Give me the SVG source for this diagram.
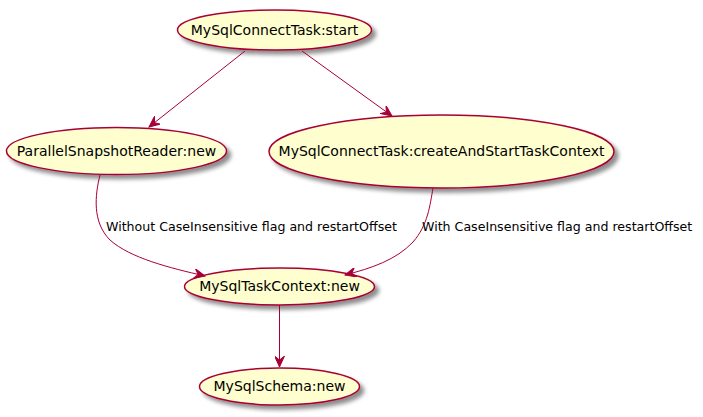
<svg xmlns="http://www.w3.org/2000/svg" width="703" height="417" viewBox="0 0 703 417">
<defs>
<filter id="sh" x="-20%" y="-30%" width="150%" height="180%">
<feGaussianBlur in="SourceAlpha" stdDeviation="2"/>
<feOffset dx="4" dy="4" result="b"/>
<feComponentTransfer><feFuncA type="linear" slope="0.45"/></feComponentTransfer>
<feMerge><feMergeNode/><feMergeNode in="SourceGraphic"/></feMerge>
</filter>
<marker id="ah" viewBox="0 0 12 10" refX="11" refY="5" markerWidth="12" markerHeight="10" markerUnits="userSpaceOnUse" orient="auto">
<path d="M0,0 L11,5 L0,10 L4,5 Z" fill="#A80036" stroke="#A80036" stroke-width="1"/>
</marker>
<style>
.n ellipse{fill:#FEFECE;stroke:#A80036;stroke-width:1.5;filter:url(#sh)}
.n text{font-family:"DejaVu Sans",sans-serif;font-size:14px;fill:#000;text-anchor:middle}
.e path{fill:none;stroke:#A80036;stroke-width:1;marker-end:url(#ah)}
.e text{font-family:"DejaVu Sans",sans-serif;font-size:12.6px;fill:#000}
</style>
</defs>
<rect width="703" height="417" fill="#fff"/>
<g id="start" class="n"><ellipse cx="274.5" cy="30" rx="97" ry="20"/><text x="274.5" y="35">MySqlConnectTask:start</text></g>
<g id="psr" class="n"><ellipse cx="116.5" cy="151" rx="110" ry="23.5"/><text x="116.5" y="156">ParallelSnapshotReader:new</text></g>
<g id="create" class="n"><ellipse cx="441.5" cy="151.5" rx="172.5" ry="36.5"/><text x="441.5" y="156">MySqlConnectTask:createAndStartTaskContext</text></g>
<g id="ctx" class="n"><ellipse cx="279.5" cy="286.5" rx="95" ry="18.5"/><text x="279.5" y="291">MySqlTaskContext:new</text></g>
<g id="schema" class="n"><ellipse cx="279.5" cy="386.5" rx="80" ry="18.5"/><text x="279.5" y="391">MySqlSchema:new</text></g>
<g id="edges" class="e">
<path d="M245,51 L149,127"/>
<path d="M302,51 L392,116"/>
<path d="M100,175 C95,195 92,222 110,240 C130,258 170,268 205,276"/>
<text x="106" y="231">Without CaseInsensitive flag and restartOffset</text>
<path d="M433,188 C430,205 428,225 413,242 C396,260 372,268 345,275"/>
<text x="422" y="231">With CaseInsensitive flag and restartOffset</text>
<path d="M279.5,305 L279.5,367"/>
</g>
</svg>
